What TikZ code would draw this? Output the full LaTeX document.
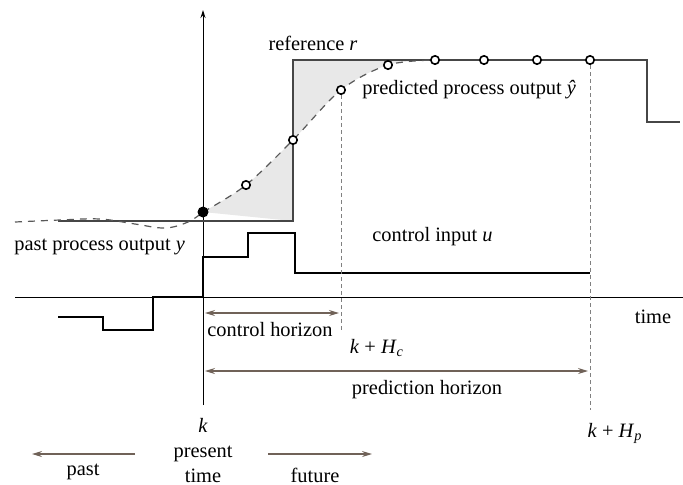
\documentclass[tikz,border=0pt]{standalone}
\usepackage{fontspec}
\setmainfont{Liberation Serif}
\usepackage{xcolor}
\usetikzlibrary{arrows.meta}
\definecolor{HorizonBrown}{RGB}{112,98,88}
\definecolor{ErrorShade}  {RGB}{232,232,232}
\definecolor{RefGray}     {RGB}{ 70, 70, 70}

\begin{document}
\begin{tikzpicture}[x=0.5pt,y=-0.5pt,
    lbl/.style={font=\fontsize{10.2}{12.5}\selectfont, inner sep=1pt},
    horizon/.style={HorizonBrown, line width=0.6pt,
      {Stealth[length=5pt,width=3pt]}-{Stealth[length=5pt,width=3pt]}},
    timearrow/.style={HorizonBrown, line width=0.6pt, -{Stealth[length=5pt,width=3pt]}},
    guide/.style={gray, line width=0.4pt, dash pattern=on 2pt off 1.5pt},
    sample/.style={circle, draw, line width=0.8pt, fill=white, inner sep=0pt, minimum size=4.2pt},
    predicted/.style={dash pattern=on 3.5pt off 3pt, line width=0.6pt, gray!70!black}]
  \useasboundingbox (0,0) rectangle (683,484);

  % axes
  \coordinate (now)   at (203,297);
  \coordinate (axtop) at (203,10);
  \coordinate (axbot) at (203,405);
  \coordinate (tleft) at (15,297);
  \coordinate (tright) at (683,297);

  % shaded error between reference and prediction
  \fill[ErrorShade] (203,221) -- (203,212)
    plot[smooth, tension=0.55] coordinates {(203,212) (246,185) (293,140) (341,90) (388,65) (435,60)}
    -- (293,60) -- (293,221) -- cycle;

  \draw[line width=0.5pt, -{Stealth[length=4pt,width=2.5pt]}] (axbot) -- (axtop);
  \draw[line width=0.5pt] (tleft) -- (tright);

  % reference r
  \draw[RefGray, line width=0.8pt] (58,221) -- (293,221) -- (293,60) -- (647,60) -- (647,122) -- (680,122);

  % control input u
  \draw[line width=1.1pt] (58,317) -- (103,317) -- (103,330) -- (153,330) -- (153,297) -- (now)
    -- (203,257) -- (248,257) -- (248,233) -- (295,233) -- (295,273) -- (590,273);

  % predicted output
  \draw[predicted] plot[smooth, tension=0.6] coordinates
    {(15,222) (60,220) (100,219) (135,224) (165,228) (188,222) (203,212)};
  \draw[predicted] plot[smooth, tension=0.55] coordinates
    {(203,212) (246,185) (293,140) (341,90) (388,65) (435,60)};
  \node[circle, fill, inner sep=0pt, minimum size=5.5pt] (ynow) at (203,212) {};
  \foreach \px/\py [count=\i] in {246/185, 293/140, 341/90, 388/65, 435/60, 484/60, 537/60, 590/60}
    \node[sample] (p\i) at (\px,\py) {};

  % horizon marks
  \coordinate (hc) at (341,332);
  \coordinate (hp) at (590,410);
  \draw[guide] (p3.south) -- (hc);
  \draw[guide] (p8.south) -- (hp);

  \coordinate (chl) at (205,313);
  \coordinate (chr) at (339,313);
  \coordinate (phl) at (205,371);
  \coordinate (phr) at (588,371);
  \draw[horizon] (chl) -- (chr);
  \draw[horizon] (phl) -- (phr);

  \coordinate (pastr) at (135,454);
  \coordinate (pastl) at (32,454);
  \coordinate (futl) at (268,454);
  \coordinate (futr) at (372,454);
  \draw[timearrow] (pastr) -- (pastl);
  \draw[timearrow] (futl) -- (futr);

  % labels
  \node[lbl] (reflbl) at (313,43) {reference \textit{r}};
  \node[lbl, anchor=west] (predlbl) at (360,90) {predicted process output \textit{ŷ}};
  \node[lbl, anchor=west] (ulbl) at (370,237) {control input \textit{u}};
  \node[lbl, anchor=west] (ylbl) at (12,247) {past process output \textit{y}};
  \node[lbl] (chlbl) at (270,330) {control horizon};
  \node[lbl] (hclbl) at (377,348) {\textit{k} + \textit{H}\textsubscript{\textit{c}}};
  \node[lbl] (phlbl) at (427,390) {prediction horizon};
  \node[lbl] (timelbl) at (653,317) {time};
  \node[lbl] (klbl) at (203,425) {\textit{k}};
  \node[lbl] (hplbl) at (615,433) {\textit{k} + \textit{H}\textsubscript{\textit{p}}};
  \node[lbl, align=center] (nowlbl) at (203,464) {present\\time};
  \node[lbl] (pastlbl) at (83,472) {past};
  \node[lbl] (futlbl) at (315,475) {future};
\end{tikzpicture}
\end{document}
